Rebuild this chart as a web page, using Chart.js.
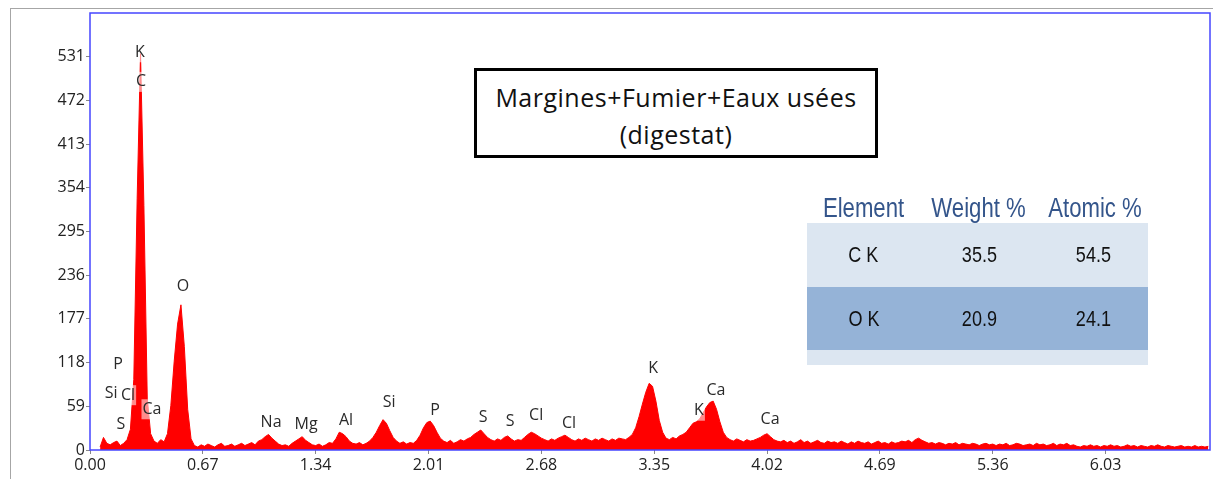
<!DOCTYPE html>
<html>
<head>
<meta charset="utf-8">
<script src="https://cdn.jsdelivr.net/npm/chart.js@4.4.1/dist/chart.umd.min.js"></script>
<style>
  html, body { margin: 0; padding: 0; background: #fff; }
  #wrap { position: relative; width: 1213px; height: 479px; overflow: hidden; }
  #frame { position: absolute; left: 10px; top: 8px; width: 1300px; height: 600px; border: 1.5px solid #a6a6a6; }
  #spectrum { position: absolute; left: 0; top: 0; }
  #title { position: absolute; left: 474px; top: 68px; width: 404px; height: 90px; box-sizing: border-box;
    border: 3px solid #000; background: #fff; text-align: center; font-family: "Open Sans", sans-serif;
    font-size: 25px; letter-spacing: 0.5px; line-height: 37px; padding-top: 8px; color: #111; white-space: nowrap; }
  .row { position: absolute; left: 807px; width: 341px; }
  .cell { position: absolute; top: 0; text-align: center; white-space: nowrap; font-family: "Liberation Sans", Arial, sans-serif; }
  .cell span { display: inline-block; transform: scaleX(0.82); }
  .head .cell { font-size: 27px; color: #34558b; }
  .body .cell { font-size: 22px; color: #111; }
</style>
</head>
<body>
<div id="wrap">
  <div id="frame"></div>
  <canvas id="spectrum" width="1213" height="479"></canvas>
  <div id="title">Margines+Fumier+Eaux usées<br>(digestat)</div>
  <div id="table"></div>
</div>
<script>
// EDS spectrum, counts per 0.02 keV channel starting at 0.06 keV
var channelStart = 0.06;
var channelWidth = 0.02;
var counts = [
  4, 17, 9, 7, 10, 12, 6, 9, 14,                 // 0.06 - 0.22
  28, 95, 340, 535, 330, 70, 22,                 // C K
  12, 9, 14, 11,
  22, 60, 120, 170, 196, 140, 55, 15,            // O K
  6, 4, 7, 5, 8, 6, 4, 7, 9, 5, 6, 8, 5, 7, 9, 6, 8, 10, 7, 12,
  14, 18, 21, 16, 12, 8,                         // Na
  6, 7, 5, 9,
  12, 15, 18, 13, 10, 7,                         // Mg
  6, 8, 5, 7, 10, 9,
  15, 24, 22, 18, 12, 9,                         // Al
  8, 10, 7, 9, 12, 17,
  24, 33, 41, 36, 26, 17, 12,                    // Si
  9, 11, 8, 10, 9, 13,
  20, 30, 37, 39, 33, 24, 16, 12,                // P
  10, 13, 9, 11, 14, 12, 15, 17,
  21, 24, 27, 22, 17, 14, 12, 15, 13,            // S
  17, 19, 15, 12, 14, 13, 17,
  21, 24, 22, 19, 16, 14, 12, 15, 13, 16, 18, 20, 17, 14, 12,   // Cl
  15, 13, 16, 14, 12, 15, 13, 16, 14, 12, 15, 13, 16, 15, 14,
  17, 21, 30, 45, 62, 78, 90, 86, 66, 40, 24, 16, // K
  14, 17, 15, 19, 21, 24, 30, 36, 38, 42, 50, 58, 64, 66, 55, 38, 24, 17, // K b / Ca
  14, 12, 15, 13, 11, 14, 12, 13, 15, 17, 20, 22, 18, 14, 12, 11,
  13, 10, 12, 9, 11, 14, 10, 12, 9, 11, 13, 10, 9, 12, 10, 11, 9, 12, 10, 8,
  11, 9, 12, 10, 9, 11, 8, 10, 12, 9, 10, 8, 11, 9, 10, 12, 11, 13, 10, 14,
  16, 13, 11, 9, 10, 8, 10, 9, 7, 9, 8, 10, 7, 9, 8, 7, 9, 8, 6, 8,
  9, 7, 8, 6, 8, 7, 9, 6, 7, 9, 8, 6, 7, 8, 6, 9, 7, 8, 6, 7,
  9, 6, 8, 7, 9, 6, 7, 5, 4, 6, 5, 7, 5, 6, 4, 6, 5, 7, 5, 6,
  4, 5, 7, 5, 6, 4, 6, 5, 4, 6, 5, 7, 5, 4, 6, 5, 4, 5, 6, 4,
  5, 4, 6, 4, 5, 4, 5
];

var xTickValues = [0, 0.67, 1.34, 2.01, 2.68, 3.35, 4.02, 4.69, 5.36, 6.03];
var xTickLabels = ['0.00', '0.67', '1.34', '2.01', '2.68', '3.35', '4.02', '4.69', '5.36', '6.03'];
var yTickValues = [0, 59, 118, 177, 236, 295, 354, 413, 472, 531];

var peakSymbols = ['K', 'C', 'O', 'P', 'Si', 'Cl', 'Ca', 'S', 'Na', 'Mg', 'Al', 'Si', 'P', 'S', 'S', 'Cl', 'Cl', 'K', 'K', 'Ca', 'Ca'];
var peakLabelEnergy = [0.297, 0.303, 0.552, 0.166, 0.125, 0.226, 0.368, 0.184, 1.075, 1.283, 1.52, 1.776, 2.049, 2.334, 2.494, 2.649, 2.844, 3.343, 3.616, 3.717, 4.038];
var peakLabelCounts = [537, 497, 221, 116, 77, 74, 55, 34, 37, 35, 40, 64, 54, 44, 38, 46, 36, 110, 53, 81, 41];

var tableHeaders = ['Element', 'Weight %', 'Atomic %'];
var tableElements = ['C K', 'O K'];
var weightPct = ['35.5', '20.9'];
var atomicPct = ['54.5', '24.1'];

// quantification table
var colLeft = [0, 113, 231];
var colWidth = [113, 118, 110];
var html = '<div class="row head" style="top:190px;height:36px;line-height:36px;">';
tableHeaders.forEach(function (h, i) {
  html += '<div class="cell" style="left:' + colLeft[i] + 'px;width:' + colWidth[i] + 'px;"><span>' + h + '</span></div>';
});
html += '</div>';
var rowTops = [223, 287];
var rowHeights = [64, 63];
var rowColors = ['#dce6f1', '#95b3d7'];
tableElements.forEach(function (el, r) {
  var vals = [el, weightPct[r], atomicPct[r]];
  html += '<div class="row body" style="top:' + rowTops[r] + 'px;height:' + rowHeights[r] + 'px;line-height:' + rowHeights[r] + 'px;background:' + rowColors[r] + ';">';
  vals.forEach(function (v, i) {
    html += '<div class="cell" style="left:' + colLeft[i] + 'px;width:' + colWidth[i] + 'px;"><span>' + v + '</span></div>';
  });
  html += '</div>';
});
html += '<div class="row" style="top:350px;height:15px;background:#dce6f1;"></div>';
document.getElementById('table').innerHTML = html;

var peakLabels = {
  id: 'peakLabels',
  afterDatasetsDraw: function (chart) {
    var ctx = chart.ctx;
    var x = chart.scales.x, y = chart.scales.y;
    ctx.save();
    ctx.font = '16px "Open Sans"';
    ctx.textAlign = 'center';
    ctx.textBaseline = 'middle';
    for (var i = 0; i < peakSymbols.length; i++) {
      var px = x.getPixelForValue(peakLabelEnergy[i]);
      var py = y.getPixelForValue(peakLabelCounts[i]);
      var w = ctx.measureText(peakSymbols[i]).width;
      ctx.fillStyle = 'rgba(255,255,255,0.55)';
      ctx.fillRect(px - w / 2 - 1, py - 10, w + 2, 20);
      ctx.fillStyle = '#2a2a2a';
      ctx.fillText(peakSymbols[i], px, py);
    }
    ctx.restore();
  }
};

var plotFrame = {
  id: 'plotFrame',
  afterDraw: function (chart) {
    var a = chart.chartArea, ctx = chart.ctx;
    ctx.save();
    ctx.strokeStyle = '#4646ff';
    ctx.lineWidth = 1.5;
    ctx.strokeRect(a.left, a.top, a.right - a.left, a.bottom - a.top);
    ctx.restore();
  }
};

var points = counts.map(function (c, i) {
  return { x: channelStart + i * channelWidth, y: c };
});

new Chart(document.getElementById('spectrum').getContext('2d'), {
  type: 'line',
  data: {
    datasets: [{
      data: points,
      borderColor: '#ff0000',
      backgroundColor: '#ff0000',
      borderWidth: 1,
      fill: 'origin',
      pointRadius: 0,
      tension: 0
    }]
  },
  options: {
    responsive: false,
    animation: false,
    layout: { padding: { left: 0, right: 3, top: 13, bottom: 0 } },
    plugins: { legend: { display: false }, tooltip: { enabled: false } },
    scales: {
      x: {
        type: 'linear', min: 0, max: 6.65,
        afterBuildTicks: function (s) { s.ticks = xTickValues.map(function (v) { return { value: v }; }); },
        afterFit: function (s) { s.height = 29; },
        border: { display: false },
        grid: { drawOnChartArea: false, drawTicks: true, tickLength: 4, color: '#888' },
        ticks: {
          autoSkip: false, maxRotation: 0, padding: 2, color: '#222',
          font: { family: 'Open Sans', size: 16 },
          callback: function (v, i) { return xTickLabels[i]; }
        }
      },
      y: {
        min: 0, max: 590,
        afterBuildTicks: function (s) { s.ticks = yTickValues.map(function (v) { return { value: v }; }); },
        afterFit: function (s) { s.width = 90; },
        border: { display: false },
        grid: { drawOnChartArea: false, drawTicks: true, tickLength: 4, color: '#888' },
        ticks: {
          autoSkip: false, padding: 1, color: '#222',
          font: { family: 'Open Sans', size: 16 }
        }
      }
    }
  },
  plugins: [peakLabels, plotFrame]
});
</script>
</body>
</html>
